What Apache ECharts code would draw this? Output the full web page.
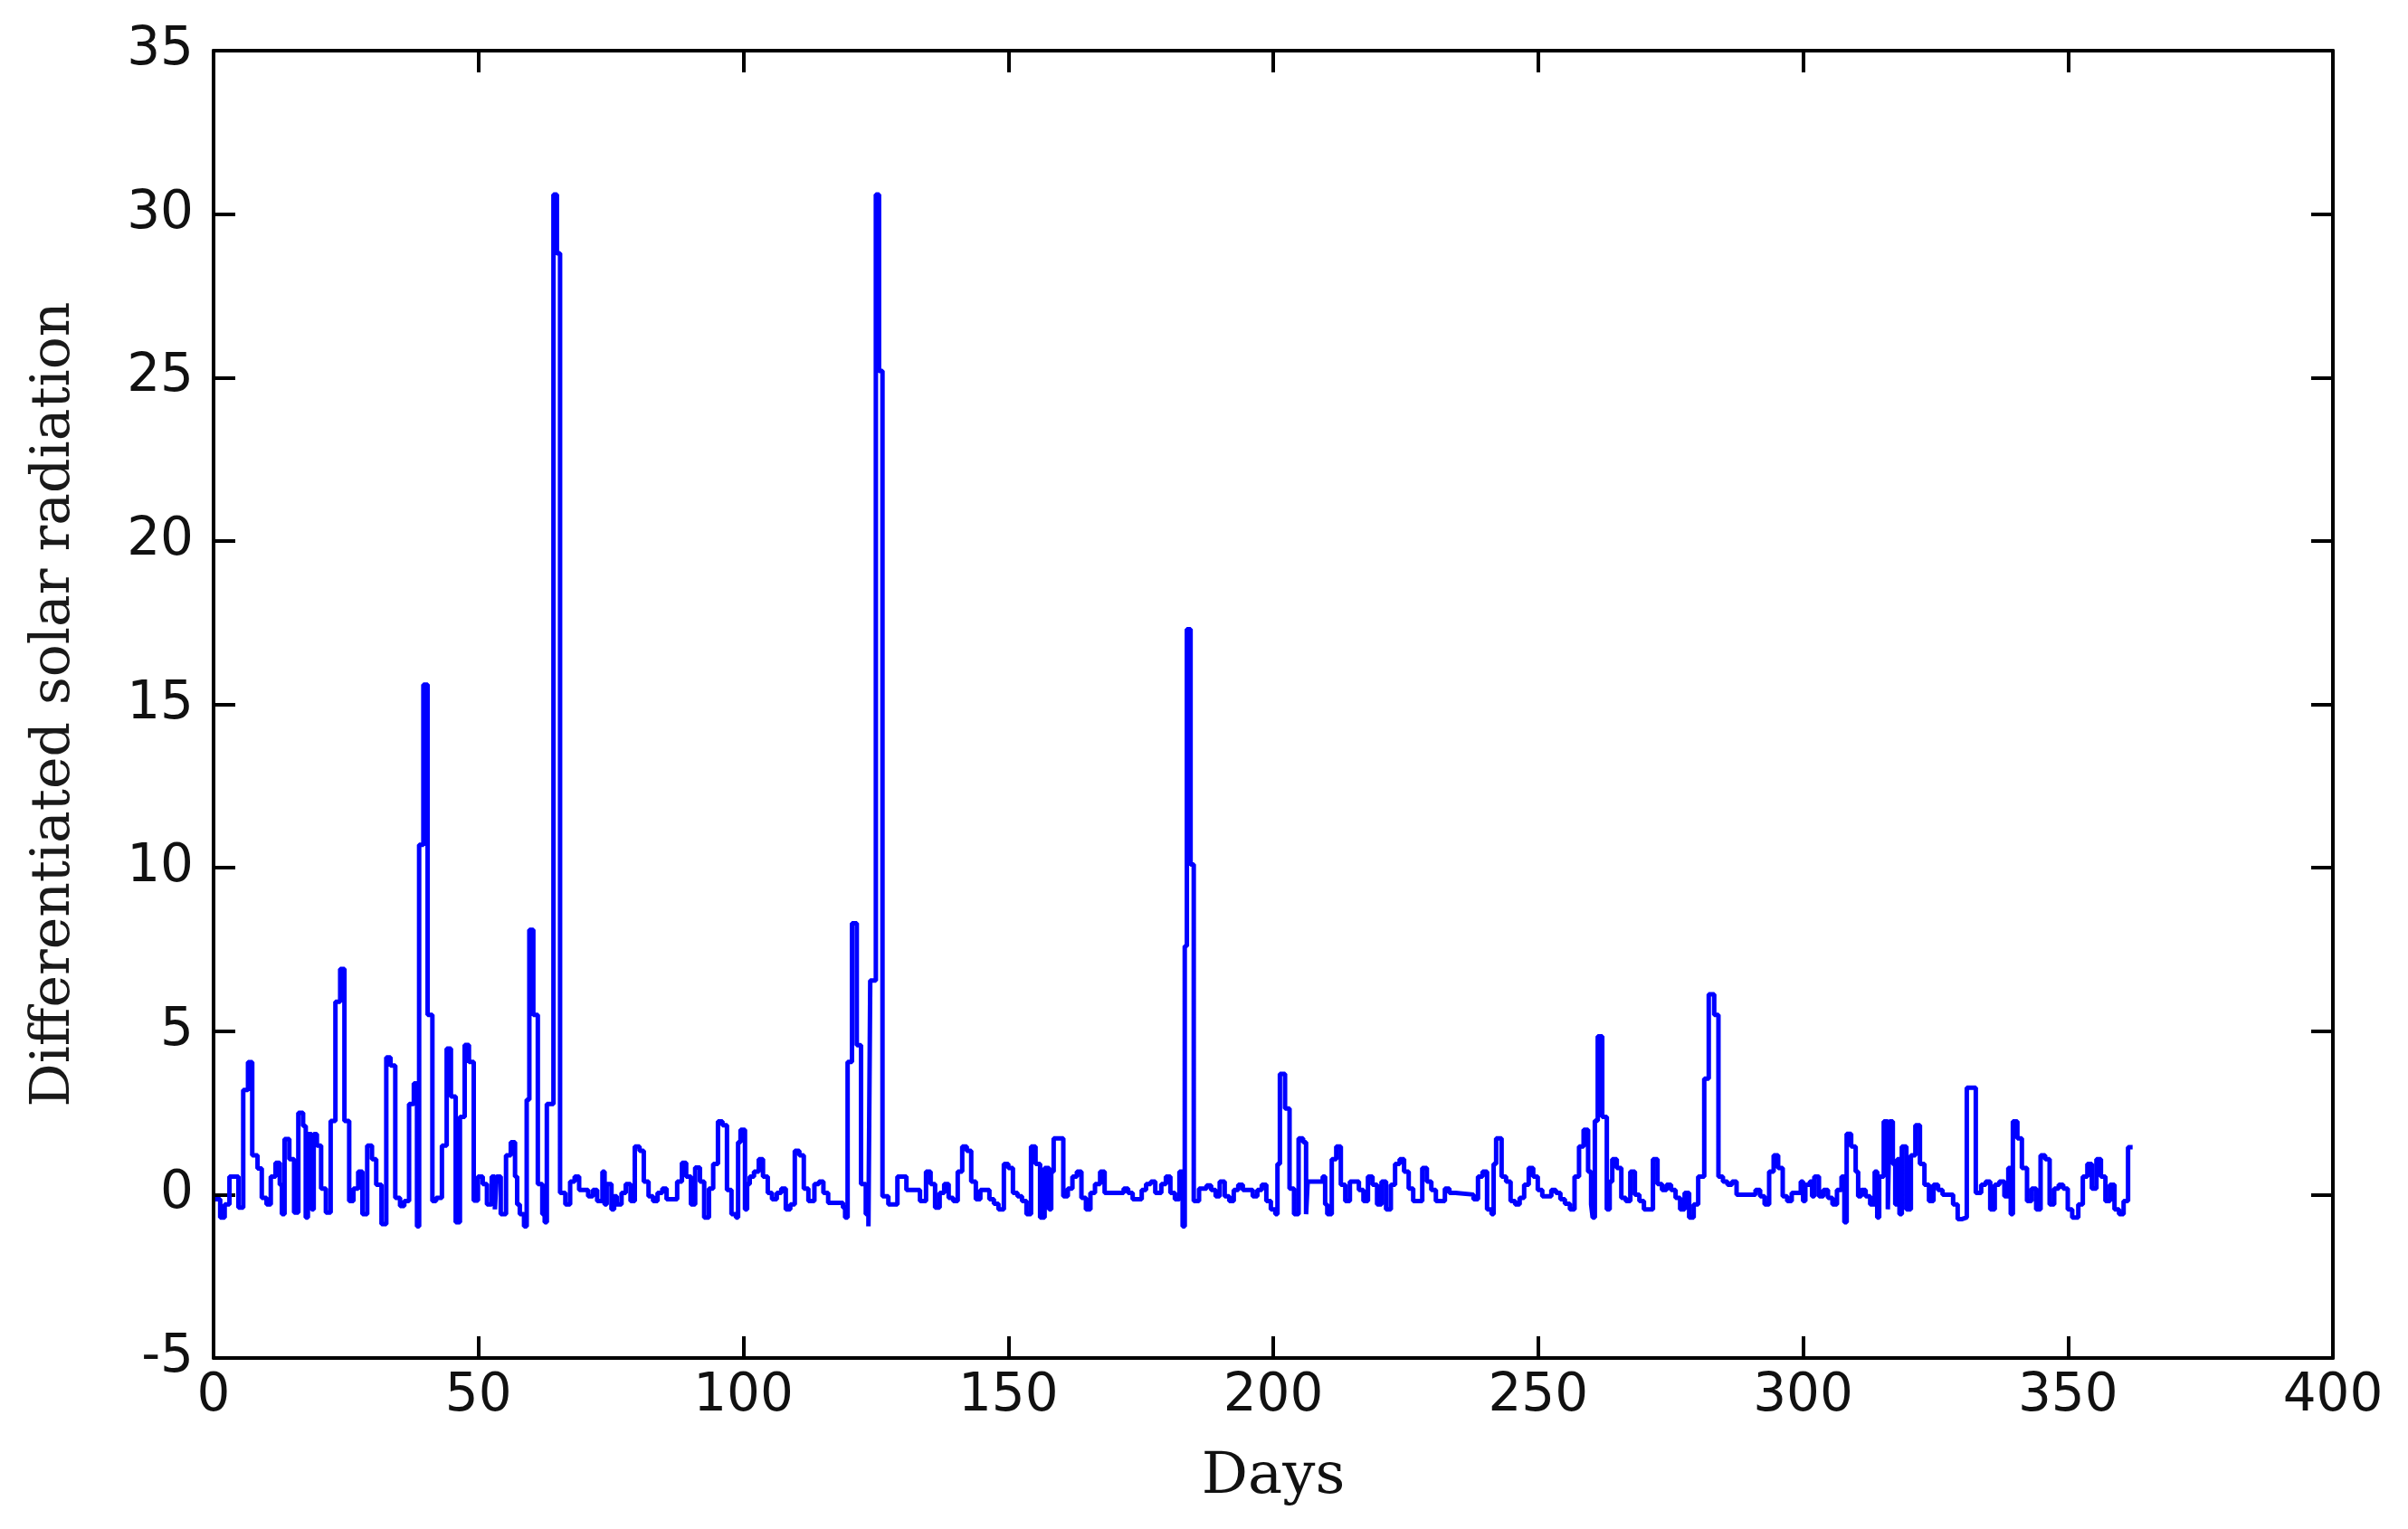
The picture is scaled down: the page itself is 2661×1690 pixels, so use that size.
<!DOCTYPE html>
<html>
<head>
<meta charset="utf-8">
<script src="https://cdn.jsdelivr.net/npm/echarts@6/dist/echarts.min.js"></script>
<style>
html,body{margin:0;padding:0;background:#fff;}
#chart{width:2661px;height:1690px;}
</style>
</head>
<body>
<div id="chart"></div>
<script>
// x positions (days) where each stair level begins
var days = [
0.3,1.25,2.1,3.0,4.7,5.6,6.5,7.3,8.3,9.1,10.0,10.8,11.7,12.5,12.9,13.4,14.3,15.2,16.0,16.9,17.4,17.8,18.5,18.9,19.5,20.3,21.2,22.1,23.0,23.9,24.7,25.6,26.4,27.3,28.1,29.0,29.9,30.7,31.7,32.6,33.4,34.3,35.2,36.0,36.9,37.8,38.4,38.8,39.6,40.4,41.3,42.0,43.1,44.0,44.8,
45.7,46.5,47.4,48.2,49.1,49.9,50.8,51.6,52.5,53.1,53.4,54.2,55.2,56.1,56.9,57.3,57.8,58.6,59.1,59.6,60.35,61.2,62.05,62.5,62.9,64.15,64.8,65.4,66.4,67.3,68.15,69.0,70.7,71.6,72.4,73.4,73.8,74.2,75.1,75.6,76.1,77.0,77.8,78.7,79.5,80.4,81.2,82.1,82.95,83.8,84.7,85.5,87.5,88.4,89.2,90.1,90.9,91.8,92.6,
93.5,94.3,95.2,96.05,96.9,97.75,98.6,99.0,99.46,100.3,100.7,101.2,102.0,102.9,103.7,104.6,105.4,106.3,107.15,108.0,108.85,109.7,110.56,111.4,112.27,113.4,114.26,115.1,116.0,118.8,119.2,119.67,120.5,121.4,122.2,123.1,123.6,123.94,125.0,125.6,126.25,127.36,129.07,130.77,133.33,134.47,135.33,136.18,137.04,137.9,138.74,
139.6,140.45,141.3,142.16,143.0,143.87,144.72,146.43,147.28,148.14,149.16,150.0,150.87,151.73,152.58,153.43,154.29,155.14,156.0,156.85,157.7,158.1,158.56,160.38,161.23,162.1,162.94,163.8,164.65,165.5,166.36,167.33,168.18,171.77,172.62,173.47,175.18,176.0,176.9,177.74,178.88,179.74,180.59,181.44,182.3,182.9,183.3,183.7,184.4,185.0,186.0,
187.42,188.28,189.13,189.9,190.84,191.7,192.55,193.4,194.26,196.13,197.0,197.84,198.7,199.55,200.4,200.8,201.26,202.23,203.08,203.93,204.79,205.64,206.2,206.5,209.34,209.8,210.2,211.05,211.9,212.76,213.6,214.47,216.17,217.03,217.88,218.74,219.6,220.44,221.3,222.2,223.0,223.86,224.7,225.57,226.42,228.13,229.0,229.84,230.7,232.4,233.25,
234.4,237.8,238.65,239.5,240.36,241.2,241.6,242.07,243.1,243.95,244.8,245.66,246.51,247.36,248.22,249.07,249.93,250.78,252.49,253.34,254.2,255.05,256.0,256.87,257.72,258.58,259.43,260.0,260.29,260.7,261.25,262.1,262.96,263.5,263.99,264.84,265.7,266.55,267.4,268.26,269.11,269.97,271.67,272.53,273.38,274.24,275.09,275.94,276.8,277.65,278.5,279.36,280.21,
281.35,282.2,283.23,284.03,284.88,285.74,286.59,287.45,291.03,291.9,292.74,293.6,294.45,295.3,296.16,297.0,297.86,299.57,300.0,300.43,301.28,301.7,302.13,303.0,303.84,304.7,305.55,306.4,307.26,307.8,308.23,309.08,309.93,310.4,310.96,311.81,312.67,313.52,314.0,314.37,315.23,316.0,316.3,316.94,317.4,317.79,318.2,318.64,319.5,320.35,321.2,322.06,322.91,323.77,324.62,325.48,326.33,
328.32,329.18,330.03,330.9,332.6,333.62,334.47,335.33,336.18,337.03,338.0,338.74,339.2,339.6,340.45,341.3,342.27,343.13,344.0,344.83,345.69,346.54,347.4,348.25,349.1,349.96,350.8,351.95,352.8,353.66,354.5,355.37,356.22,357.07,357.93,358.78,359.64,360.5,361.34,362.2
];
// differentiated solar radiation level for each stair
var values = [
-0.14,-0.7,-0.3,0.55,-0.4,3.2,4.05,1.2,0.8,-0.1,-0.3,0.55,0.97,0.3,-0.6,1.7,1.08,-0.55,2.5,2.1,-0.7,1.85,-0.45,1.85,1.5,0.18,-0.55,2.25,5.9,6.9,2.25,-0.2,0.18,0.7,-0.6,1.5,1.08,0.3,-0.9,4.2,3.95,-0.1,-0.35,-0.2,2.77,3.4,-0.97,10.7,15.6,5.5,-0.2,-0.1,1.5,4.47,3.0,
-0.85,2.38,4.58,4.06,-0.18,0.55,0.32,-0.3,0.55,-0.45,0.55,-0.6,1.2,1.6,0.55,-0.3,-0.6,-0.97,2.9,8.1,5.5,0.32,-0.6,-0.85,2.77,30.6,28.8,0.05,-0.3,0.4,0.55,0.14,-0.05,0.14,-0.2,0.7,-0.3,0.32,-0.45,-0.05,-0.3,0.05,0.32,-0.2,1.47,1.34,0.4,-0.05,-0.2,0.05,0.18,-0.14,0.4,0.97,0.55,-0.3,0.83,0.4,-0.7,
0.18,0.94,2.24,2.12,0.14,-0.6,-0.7,1.6,1.98,-0.45,0.32,0.55,0.7,1.08,0.55,0.05,-0.14,0.05,0.18,-0.45,-0.3,1.34,1.2,0.18,-0.2,0.32,0.4,0.05,-0.25,-0.4,-0.7,4.06,8.3,4.57,0.32,-0.6,-0.97,6.55,30.6,25.2,-0.05,-0.3,0.55,0.14,-0.2,0.7,0.32,-0.4,0.05,0.32,-0.1,
-0.2,0.7,1.47,1.34,0.4,-0.14,0.14,-0.14,-0.28,-0.45,0.94,0.81,0.05,-0.05,-0.2,-0.6,1.47,0.94,-0.7,0.81,-0.45,0.7,1.72,-0.05,0.18,0.55,0.7,-0.1,-0.45,0.05,0.32,0.7,0.05,0.18,0.05,-0.14,0.14,0.32,0.4,0.05,0.32,0.55,0.05,-0.14,0.7,-0.97,7.6,17.3,10.1,-0.2,0.18,
0.28,0.14,-0.05,0.4,-0.05,-0.2,0.14,0.3,0.14,-0.05,0.14,0.3,-0.2,-0.45,-0.6,0.94,3.69,2.63,0.18,-0.6,1.72,1.6,-0.6,0.4,0.55,-0.3,-0.6,1.08,1.47,0.3,-0.2,0.4,0.14,-0.2,0.55,0.3,-0.3,0.4,-0.45,0.3,0.94,1.08,0.7,0.18,-0.2,0.81,0.4,0.14,-0.2,0.18,0.05,
0.0,-0.14,0.55,0.7,-0.45,-0.6,0.94,1.72,0.55,0.4,-0.2,-0.3,-0.1,0.3,0.81,0.55,0.14,-0.05,0.14,0.05,-0.14,-0.28,-0.45,0.55,1.47,1.98,0.7,-0.3,-0.7,2.26,4.84,2.38,-0.45,0.4,1.08,0.81,-0.1,-0.2,0.7,0.0,-0.2,-0.45,1.08,0.32,0.14,0.3,0.14,-0.1,-0.45,0.05,-0.7,-0.3,0.55,
3.55,6.13,5.5,0.55,0.4,0.3,0.4,0.0,0.14,-0.05,-0.3,0.7,1.2,0.81,-0.05,-0.2,0.05,0.4,-0.2,0.3,0.4,-0.05,0.55,-0.05,0.14,-0.1,-0.3,0.14,0.55,-0.85,1.86,1.47,0.7,-0.05,0.14,-0.05,-0.3,0.7,-0.7,0.55,2.24,-0.45,2.24,0.94,-0.3,1.08,-0.6,1.47,-0.45,1.2,2.12,0.94,0.3,-0.2,0.3,0.14,0.0,
-0.3,-0.75,-0.7,3.27,0.05,0.3,0.4,-0.45,0.3,0.4,-0.05,0.81,-0.6,2.24,1.72,0.81,-0.2,0.18,-0.45,1.2,1.08,-0.3,0.18,0.3,0.18,-0.45,-0.7,-0.3,0.55,0.94,0.18,1.08,0.55,-0.2,0.3,-0.45,-0.6,-0.2,1.45,1.45
];
var xTicks = [0,50,100,150,200,250,300,350,400];
var yTicks = [-5,0,5,10,15,20,25,30,35];

var seriesData = [];
var n = Math.min(days.length, values.length);
for (var i = 0; i < n; i++) seriesData.push([days[i], values[i]]);

var axisLineStyle = {show:true, onZero:false, lineStyle:{color:'#000', width:4}};
var tickStyle = {show:true, inside:true, length:24, lineStyle:{color:'#000', width:4}};
var labelStyle = {fontFamily:'DejaVu Sans', fontSize:58, color:'#111'};

var chart = echarts.init(document.getElementById('chart'), null, {renderer:'canvas'});
chart.setOption({
  backgroundColor:'#fff',
  animation:false,
  grid:{left:236, right:83, top:56, bottom:189, containLabel:false},
  xAxis:[
    {type:'value', position:'bottom', min:xTicks[0], max:xTicks[xTicks.length-1], interval:xTicks[1]-xTicks[0],
     axisLine:axisLineStyle, axisTick:tickStyle, splitLine:{show:false},
     axisLabel:Object.assign({margin:14, showMinLabel:true, showMaxLabel:true}, labelStyle),
     name:'Days', nameLocation:'middle', nameGap:100,
     nameTextStyle:{fontFamily:'DejaVu Serif', fontSize:64, color:'#111'}},
    {type:'value', position:'top', min:xTicks[0], max:xTicks[xTicks.length-1], interval:xTicks[1]-xTicks[0],
     axisLine:axisLineStyle, axisTick:tickStyle, splitLine:{show:false}, axisLabel:{show:false}}
  ],
  yAxis:[
    {type:'value', position:'left', min:yTicks[0], max:yTicks[yTicks.length-1], interval:yTicks[1]-yTicks[0],
     axisLine:axisLineStyle, axisTick:tickStyle, splitLine:{show:false},
     axisLabel:Object.assign({margin:22, showMinLabel:true, showMaxLabel:true}, labelStyle),
     name:'Differentiated solar radiation', nameLocation:'middle', nameGap:146, nameRotate:90,
     nameTextStyle:{fontFamily:'DejaVu Serif', fontSize:60, color:'#1a1a1a'}},
    {type:'value', position:'right', min:yTicks[0], max:yTicks[yTicks.length-1], interval:yTicks[1]-yTicks[0],
     axisLine:axisLineStyle, axisTick:tickStyle, splitLine:{show:false}, axisLabel:{show:false}}
  ],
  series:[{
    type:'line', xAxisIndex:0, yAxisIndex:0, step:'end', showSymbol:false, symbol:'none',
    lineStyle:{color:'#0000ff', width:5}, data:seriesData
  }]
});
</script>
</body>
</html>
